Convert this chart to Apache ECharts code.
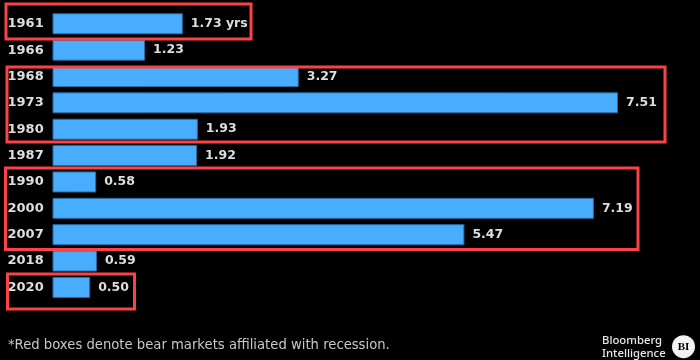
<!DOCTYPE html>
<html><head><meta charset="utf-8">
<style>html,body{margin:0;padding:0;background:#000}#c{width:700px;height:360px}</style>
<script src="https://cdn.jsdelivr.net/npm/echarts@6/dist/echarts.min.js"></script>
</head><body><div id="c"></div>
<script>
const years = ['1961','1966','1968','1973','1980','1987','1990','2000','2007','2018','2020'];
const durations = [1.73,1.23,3.27,7.51,1.93,1.92,0.58,7.19,5.47,0.59,0.50];
const valueLabels = ['1.73 yrs','1.23','3.27','7.51','1.93','1.92','0.58','7.19','5.47','0.59','0.50'];
const footnote = '*Red boxes denote bear markets affiliated with recession.';
const font = '"DejaVu Sans"';
const red = '#fb4246';
const box = (x,y,w,h) => ({type:'rect',z:10,shape:{x,y,width:w,height:h},style:{fill:'none',stroke:red,lineWidth:3}});
const chart = echarts.init(document.getElementById('c'),null,{renderer:'canvas'});
chart.setOption({
  backgroundColor:'#000',
  animation:false,
  grid:{left:52.5,top:10.6,width:602.4,height:290},
  xAxis:{type:'value',min:0,max:8,show:false},
  yAxis:{type:'category',data:years,inverse:true,
    axisLine:{show:false},axisTick:{show:false},
    axisLabel:{color:'#dedede',fontFamily:font,fontWeight:'bold',fontSize:13,align:'left',margin:45}},
  series:[{type:'bar',data:durations,barWidth:21,
    itemStyle:{color:'#49adff',borderColor:'#2a6ba3',borderWidth:1},
    label:{show:true,position:'right',distance:8,color:'#dedede',fontFamily:font,fontWeight:'bold',fontSize:12.5,
      formatter:p=>valueLabels[p.dataIndex]}}],
  graphic:[
    box(6,4,245,35),box(7,67,658,75),box(5.5,168,632.5,81.5),box(7.5,274,127,35),
    {type:'text',z:10,style:{x:8,y:339.5,text:footnote,fill:'#c8c8c8',font:'13.2px '+font}},
    {type:'text',z:10,style:{x:602,y:335.5,text:'Bloomberg',fill:'#e8e8e8',font:'500 11.3px "Noto Sans"'}},
    {type:'text',z:10,style:{x:602,y:348.5,text:'Intelligence',fill:'#e8e8e8',font:'500 11.3px "Noto Sans"'}},
    {type:'circle',z:10,shape:{cx:683.5,cy:346.7,r:11.5},style:{fill:'#f2f2f2'}},
    {type:'text',z:11,style:{x:683.5,y:347,text:'BI',fill:'#000',align:'center',verticalAlign:'middle',font:'bold 11px "Liberation Serif"'}}
  ]
});
</script></body></html>
